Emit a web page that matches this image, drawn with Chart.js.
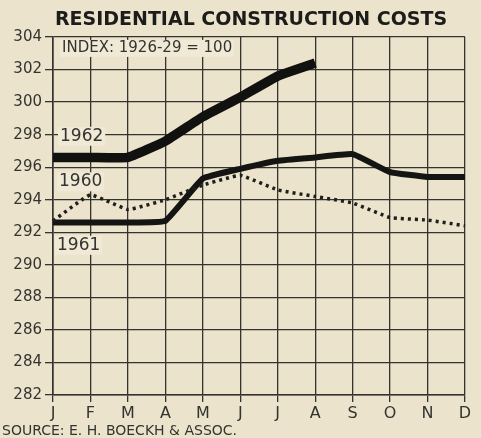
<!DOCTYPE html>
<html>
<head>
<meta charset="utf-8">
<script src="https://cdn.jsdelivr.net/npm/chart.js@4.4.0/dist/chart.umd.min.js"></script>
<style>
  html, body { margin: 0; padding: 0; background: #ebe3cc; }
  #wrap { width: 481px; height: 438px; }
</style>
</head>
<body>
<div id="wrap"><canvas id="costs"></canvas></div>
<script>
const months = ['J', 'F', 'M', 'A', 'M', 'J', 'J', 'A', 'S', 'O', 'N', 'D'];
const costs1960 = [292.7, 294.3, 293.4, 294.0, 294.9, 295.5, 294.6, 294.2, 293.8, 292.9, 292.75, 292.4];
const costs1961 = [292.6, 292.6, 292.6, 292.7, 295.3, 295.9, 296.4, 296.6, 296.8, 295.7, 295.4, 295.4];
const costs1962 = [296.6, 296.6, 296.6, 297.6, 299.1, 300.3, 301.6, 302.4];
const yTicks = [282, 284, 286, 288, 290, 292, 294, 296, 298, 300, 302, 304];

const paper = '#ebe3cc';
const ink = '#333330';
const sans = "'DejaVu Sans', sans-serif";

// labels written on the plot, with a light patch behind them
const notes = [
  { text: 'INDEX: 1926-29 = 100', month: 0, value: 303.3, size: 15, dx: 9 },
  { text: '1962', month: 0, value: 297.9, size: 17, dx: 7 },
  { text: '1960', month: 0, value: 295.1, size: 17, dx: 6 },
  { text: '1961', month: 0, value: 291.2, size: 17, dx: 4 }
];

const paperAndNotes = {
  id: 'paperAndNotes',
  beforeDraw(chart) {
    const c = chart.ctx;
    c.save();
    c.fillStyle = paper;
    c.fillRect(0, 0, chart.width, chart.height);
    c.restore();
  },
  afterDatasetsDraw(chart) {
    const c = chart.ctx;
    const x = chart.scales.x, y = chart.scales.y;
    c.save();
    c.textBaseline = 'middle';
    notes.forEach(function (n) {
      c.font = n.size + 'px ' + sans;
      const w = c.measureText(n.text).width;
      const px = x.getPixelForValue(n.month) + n.dx;
      const py = y.getPixelForValue(n.value);
      c.fillStyle = '#f0e9d6';
      c.fillRect(px - 2, py - n.size / 2 - 1, w + 4, n.size + 2);
      c.fillStyle = ink;
      c.fillText(n.text, px, py);
    });

    // title and source line
    c.fillStyle = '#1c1c1a';
    c.textAlign = 'center';
    c.font = 'bold 19px ' + sans;
    c.fillText('RESIDENTIAL CONSTRUCTION COSTS', 251, 20);
    c.textAlign = 'left';
    c.fillStyle = ink;
    c.font = '14px ' + sans;
    c.fillText('SOURCE: E. H. BOECKH & ASSOC.', 2, 431);
    c.restore();
  }
};

new Chart(document.getElementById('costs'), {
  type: 'line',
  data: {
    labels: months,
    datasets: [{
      label: '1960',
      data: costs1960,
      borderColor: '#1e1e1c',
      borderWidth: 3.5,
      borderDash: [3, 4],
      pointRadius: 0,
      tension: 0.1
    }, {
      label: '1961',
      data: costs1961,
      borderColor: '#141413',
      borderWidth: 6,
      pointRadius: 0,
      tension: 0.1
    }, {
      label: '1962',
      data: costs1962,
      borderColor: '#111110',
      borderWidth: 9.5,
      pointRadius: 0,
      tension: 0.1
    }]
  },
  options: {
    responsive: true,
    maintainAspectRatio: false,
    animation: false,
    layout: { padding: { left: 0, right: 16, top: 37, bottom: 0 } },
    plugins: {
      legend: { display: false },
      tooltip: { enabled: false },
      title: { display: false }
    },
    scales: {
      x: {
        offset: false,
        afterFit(axis) { axis.height = 43; },
        grid: { color: ink, lineWidth: 1.3, tickLength: 7 },
        border: { color: ink, width: 1.6 },
        ticks: { color: ink, font: { family: sans, size: 16 }, padding: 2, maxRotation: 0, autoSkip: false }
      },
      y: {
        min: 282,
        max: 304,
        afterFit(axis) { axis.width = 53; },
        afterBuildTicks(axis) { axis.ticks = yTicks.map(function (v) { return { value: v }; }); },
        grid: { color: ink, lineWidth: 1.3, tickLength: 8 },
        border: { color: ink, width: 1.6 },
        ticks: { color: ink, font: { family: sans, size: 15 }, padding: 3 }
      }
    }
  },
  plugins: [paperAndNotes]
});
</script>
</body>
</html>
